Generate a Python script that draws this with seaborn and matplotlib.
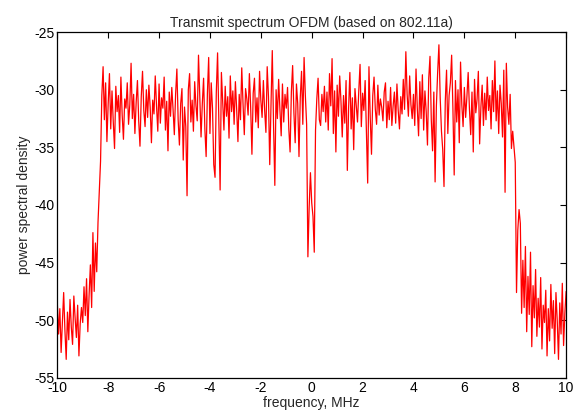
# -*- coding: utf-8 -*-
import numpy as np
import pandas as pd
import seaborn as sns
import matplotlib
matplotlib.use('Agg')
import matplotlib.pyplot as plt

# frequency grid, MHz (0.05 MHz bins)
freq = np.round(np.linspace(-10, 10, 401), 2)

# psd values, one row per MHz
psd = [
    # -10 .. -9.05
    -48.5, -51.2, -49.0, -52.8, -50.1, -47.6, -50.9, -53.4, -49.3, -51.7,
    -48.2, -50.6, -52.1, -47.9, -49.8, -51.5, -48.7, -53.1, -50.3, -48.9,
    # -9 .. -8.05
    -50.2, -47.1, -49.6, -46.4, -51.0, -47.8, -45.2, -48.9, -42.4, -47.5,
    -43.3, -45.8, -41.5, -38.8, -36.2, -30.5, -28.0, -32.6, -29.4, -34.5,
    # -8 .. -7.05
    -31.2, -28.6, -33.4, -30.1, -32.8, -35.1, -29.7, -31.9, -30.5, -33.7,
    -28.9, -32.2, -34.3, -30.8, -31.6, -29.4, -33.0, -31.3, -27.7, -32.5,
    # -7 .. -6.05
    -30.4, -33.8, -31.1, -29.2, -32.7, -34.9, -30.6, -28.4, -31.8, -33.2,
    -30.0, -32.4, -29.6, -31.5, -34.6, -30.9, -32.1, -28.8, -31.4, -33.6,
    # -6 .. -5.05
    -29.5, -32.9, -30.7, -31.6, -28.9, -33.5, -31.0, -35.3, -30.2, -32.3,
    -29.8, -31.7, -33.9, -30.4, -28.2, -32.6, -34.8, -31.2, -29.9, -36.1,
    # -5 .. -4.05
    -31.5, -33.2, -39.2, -30.0, -28.6, -32.8, -30.9, -33.6, -29.3, -31.4,
    -32.7, -27.0, -30.5, -34.1, -31.2, -29.0, -33.4, -35.8, -30.3, -27.2,
    # -4 .. -3.05
    -33.8, -29.4, -31.6, -36.5, -37.6, -30.2, -26.8, -32.9, -38.7, -28.5,
    -31.0, -33.5, -29.7, -32.3, -30.6, -34.2, -28.8, -31.9, -30.1, -33.0,
    # -3 .. -2.05
    -29.3, -31.7, -34.5, -30.4, -32.6, -28.1, -31.2, -33.9, -29.9, -30.8,
    -32.2, -28.6, -31.5, -35.6, -30.3, -29.0, -32.8, -30.7, -33.3, -28.4,
    # -2 .. -1.05
    -30.9, -32.4, -29.2, -31.8, -33.7, -28.0, -30.6, -36.5, -31.3, -26.6,
    -33.1, -38.3, -30.0, -32.5, -29.1, -31.7, -34.0, -29.5, -32.8, -30.4,
    # -1 .. -0.05
    -31.6, -29.8, -33.4, -35.4, -30.2, -27.9, -32.0, -34.6, -29.5, -31.2,
    -35.8, -30.7, -28.4, -33.0, -27.2, -30.5, -33.0, -44.5, -40.2, -37.2,
    # 0 .. 0.95
    -39.8, -41.0, -44.1, -33.5, -30.8, -29.0, -32.6, -33.1, -30.4, -31.9,
    -29.7, -32.8, -30.2, -33.5, -28.6, -31.4, -27.3, -33.8, -30.1, -35.4,
    # 1 .. 1.95
    -29.6, -32.3, -28.8, -31.0, -34.1, -30.5, -32.9, -29.2, -37.0, -31.6,
    -28.5, -33.4, -30.7, -35.2, -29.9, -31.4, -32.8, -30.1, -27.8, -33.2,
    # 2 .. 2.95
    -30.3, -31.8, -29.2, -33.6, -38.1, -28.0, -32.4, -35.6, -30.5, -28.9,
    -31.7, -33.0, -29.6, -32.2, -30.8, -31.5, -32.7, -30.2, -29.4, -33.3,
    # 3 .. 3.95
    -31.0, -32.6, -29.8, -33.1, -31.4, -30.2, -32.9, -29.5, -31.8, -33.4,
    -30.6, -32.1, -29.1, -31.7, -26.7, -30.4, -32.3, -28.8, -31.3, -32.5,
    # 4 .. 4.95
    -30.4, -33.1, -28.2, -31.6, -34.0, -29.3, -32.5, -28.7, -33.5, -30.1,
    -31.9, -34.8, -29.0, -27.1, -32.6, -35.3, -30.2, -38.0, -31.4, -28.5,
    # 5 .. 5.95
    -26.1, -30.7, -33.6, -35.2, -38.4, -31.0, -28.3, -33.8, -30.5, -29.4,
    -27.0, -31.6, -37.4, -29.2, -32.8, -30.0, -34.6, -27.6, -31.3, -33.2,
    # 6 .. 6.95
    -29.8, -32.4, -30.6, -28.5, -31.7, -33.9, -30.2, -35.4, -29.1, -32.0,
    -30.8, -28.4, -34.7, -31.5, -29.6, -33.1, -30.3, -32.6, -28.9, -31.8,
    # 7 .. 7.95
    -30.5, -33.4, -29.2, -31.9, -27.5, -32.7, -30.1, -33.8, -29.6, -31.2,
    -34.1, -28.3, -38.9, -27.7, -31.5, -33.0, -30.4, -35.1, -33.6, -35.0,
    # 8 .. 8.95
    -36.3, -47.6, -42.2, -40.4, -41.6, -49.4, -44.8, -48.9, -43.6, -51.0,
    -46.2, -49.5, -44.1, -52.3, -47.0, -49.8, -45.6, -51.4, -48.1, -50.6,
    # 9 .. 10
    -46.3, -52.5, -48.7, -50.2, -47.4, -53.1, -49.0, -51.8, -46.9, -50.7,
    -48.3, -52.9, -47.6, -50.0, -53.4, -48.5, -51.2, -46.8, -52.2, -49.4,
    -47.5,
]

xticks = list(range(-10, 11, 2))
yticks = list(range(-55, -24, 5))

sns.set_style('white')
plt.rcParams['font.family'] = ['Liberation Sans', 'DejaVu Sans']
plt.rcParams['axes.unicode_minus'] = False

df = pd.DataFrame({'freq': freq, 'psd': psd})

fig = plt.figure(figsize=(5.73, 4.12), dpi=100)
ax = fig.add_axes([0.1, 0.083, 0.888, 0.839])
sns.lineplot(data=df, x='freq', y='psd', color='red', linewidth=0.9, ax=ax)

ax.set_xlim(-10, 10)
ax.set_ylim(-55, -25)
ax.set_xticks(xticks)
ax.set_yticks(yticks)
ax.tick_params(direction='in', length=4, width=0.8, top=True, right=True,
               labelsize=10, colors='black', pad=2)
for s in ax.spines.values():
    s.set_color('black')
    s.set_linewidth(0.9)

ax.set_title('Transmit spectrum OFDM (based on 802.11a)', fontsize=10, pad=4)
ax.set_xlabel('frequency, MHz', fontsize=10, labelpad=1)
ax.set_ylabel('power spectral density', fontsize=10, labelpad=2)

fig.savefig('out.png', dpi=100)
